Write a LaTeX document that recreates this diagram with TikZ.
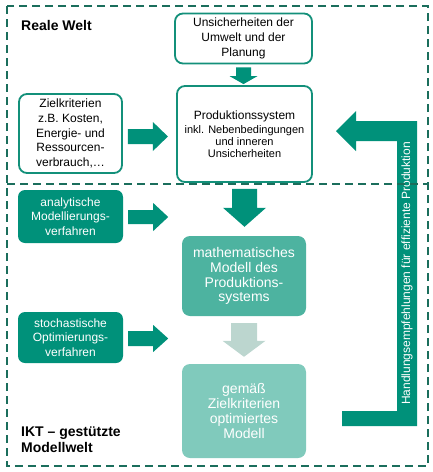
\documentclass[tikz,border=0pt]{standalone}
\usepackage{fontspec}
\setmainfont{Liberation Sans}
\usetikzlibrary{calc}
\definecolor{teal1}{HTML}{00917A}
\definecolor{tealb}{HTML}{13907A}
\definecolor{teal2}{HTML}{4DB3A0}
\definecolor{teal3}{HTML}{80CABC}
\definecolor{greyarr}{HTML}{BCD6CF}
\definecolor{dashc}{HTML}{1B6E5C}
% #1 colour, #2 from node, #3 to node, #4 stem half, #5 head half, #6 top gap, #7 bottom gap, #8 head length
\newcommand{\downblk}[8]{%
 \fill[#1] let \p1=(#2.south), \p2=(#3.north) in
 (\x1-#4,\y1-#6) -- (\x1+#4,\y1-#6) -- (\x1+#4,\y2+#7+#8) -- (\x1+#5,\y2+#7+#8)
 -- (\x1,\y2+#7) -- (\x1-#5,\y2+#7+#8) -- (\x1-#4,\y2+#7+#8) -- cycle;}
% #1 colour, #2 from node, #3 gap, #4 length, #5 stem half, #6 head half, #7 head length, #8 y offset (down)
\newcommand{\rightblk}[8]{%
 \fill[#1] let \p1=(#2.east) in
 (\x1+#3,\y1-#8+#5) -- (\x1+#3+#4-#7,\y1-#8+#5) -- (\x1+#3+#4-#7,\y1-#8+#6)
 -- (\x1+#3+#4,\y1-#8) -- (\x1+#3+#4-#7,\y1-#8-#6) -- (\x1+#3+#4-#7,\y1-#8-#5)
 -- (\x1+#3,\y1-#8-#5) -- cycle;}
\begin{document}
\begin{tikzpicture}[x=1pt,y=-1pt,
  outbox/.style={draw=tealb, line width=1.8pt, rounded corners=8pt, fill=white,
    align=center, inner sep=0pt, font=\fontsize{12}{14.7}\selectfont},
  fillbox/.style={fill=teal1, text=white, rounded corners=7pt, align=center,
    inner sep=0pt, font=\fontsize{12}{14.5}\selectfont},
  bigbox/.style={rounded corners=8pt, text=white, align=center, inner sep=0pt,
    font=\fontsize{14}{14.8}\selectfont},
  dashline/.style={draw=dashc, line width=2pt, dash pattern=on 8pt off 5pt},
  title/.style={font=\fontsize{14}{16}\selectfont\bfseries, inner sep=0pt, align=left}]
\useasboundingbox (0,0) rectangle (433,472);

% feedback arrow
\coordinate (fbstart) at (342,418.5);
\fill[teal1] (342,426) -- (417,426) -- (417,121) -- (356,121) -- (356,111) -- (336,131)
  -- (356,151) -- (356,141) -- (397,141) -- (397,411) -- (342,411) -- cycle;
\node[rotate=90, text=white, inner sep=0pt, font=\fontsize{12}{14}\selectfont] (fbtext)
  at (407,273.5) {Handlungsempfehlungen für effiziente Produktion};

% dashed frames
\draw[dashline] (7,6) rectangle (428,466);
\draw[dashline] (7,184) -- (428,184);

% titles
\node[title, anchor=west] (reale) at (21,25.5) {Reale Welt};
\node[title, anchor=north west] (ikt) at (21,427) {IKT – gestützte\\Modellwelt};

% nodes
\node[outbox, minimum width=137pt, minimum height=50pt] (unsich) at (243.5,38.5)
  {Unsicherheiten der\\Umwelt und der\\Planung};
\node[outbox, minimum width=135pt, minimum height=96pt,
  font=\fontsize{11}{11.7}\selectfont] (prod) at (244.5,134)
  {{\fontsize{12}{12}\selectfont Produktionssystem}\\[3pt]inkl. Nebenbedingungen\\und inneren\\Unsicherheiten};
\node[outbox, minimum width=103pt, minimum height=79pt] (ziel) at (70.5,133.5)
  {Zielkriterien\\z.B. Kosten,\\Energie- und\\Ressourcen-\\verbrauch,\dots};
\node[fillbox, minimum width=105pt, minimum height=53pt] (analyt) at (70.5,216.5)
  {analytische\\Modellierungs-\\verfahren};
\node[fillbox, minimum width=105pt, minimum height=51pt] (stoch) at (70.5,337.5)
  {stochastische\\Optimierungs-\\verfahren};
\node[bigbox, fill=teal2, minimum width=124pt, minimum height=80pt] (math) at (244,276)
  {mathematisches\\Modell des\\Produktions-\\systems};
\node[bigbox, fill=teal3, minimum width=124pt, minimum height=94pt] (gem) at (244,411)
  {gemäß\\Zielkriterien\\optimiertes\\Modell};

% block arrows
\downblk{teal1}{unsich}{prod}{7.5pt}{14pt}{3pt}{1pt}{8pt}
\downblk{teal1}{prod}{math}{12.5pt}{21.5pt}{6pt}{9pt}{19pt}
\downblk{greyarr}{math}{gem}{13pt}{21.5pt}{7pt}{7pt}{16pt}
\rightblk{teal1}{ziel}{5pt}{40pt}{7.5pt}{14.5pt}{15pt}{3pt}
\rightblk{teal1}{analyt}{5pt}{40pt}{7pt}{14pt}{15pt}{0.5pt}
\rightblk{teal1}{stoch}{5pt}{40pt}{7.5pt}{13.5pt}{15pt}{1pt}
\end{tikzpicture}
\end{document}
